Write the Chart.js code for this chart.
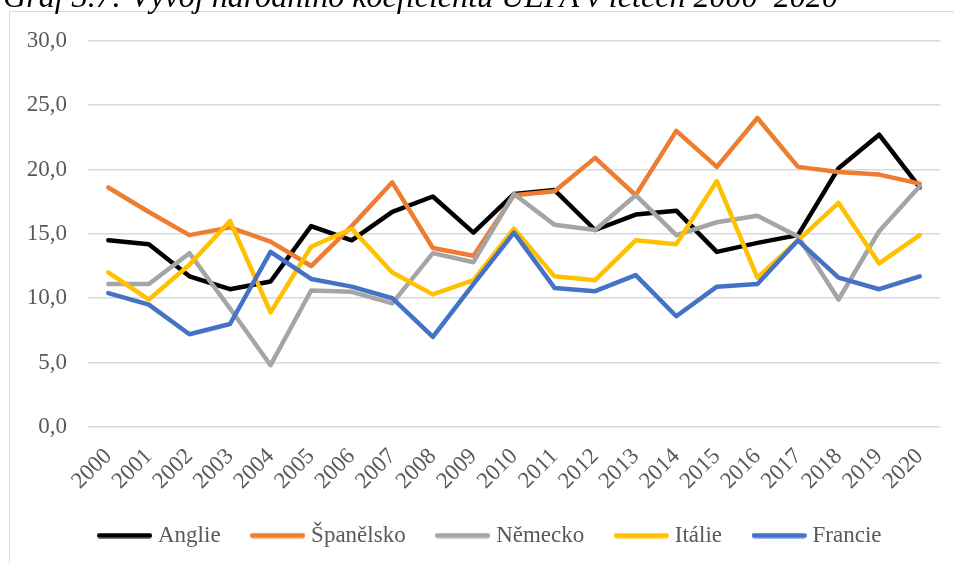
<!DOCTYPE html>
<html>
<head>
<meta charset="utf-8">
<script src="https://cdn.jsdelivr.net/npm/chart.js@4/dist/chart.umd.min.js"></script>
<style>
  html, body { margin: 0; padding: 0; background: #fff; overflow: hidden; }
  #wrap { position: relative; width: 954px; height: 563px; overflow: hidden; }
  #frame { position: absolute; left: 9px; top: 11px; width: 1000px; height: 600px; border: 1.5px solid #d9d9d9; box-sizing: border-box; }
  #title { position: absolute; left: 3px; top: -16px; white-space: nowrap; font-family: "Liberation Serif", "Times New Roman", serif; font-style: italic; font-size: 27px; color: #000; line-height: 1; }
  #cv { position: absolute; left: 0; top: 0; }
</style>
</head>
<body>
<div id="wrap">
  <div id="frame"></div>
  <canvas id="cv" width="984" height="563" style="width:984px;height:563px"></canvas>
  <div id="title">Graf 3.7: Vývoj národního koeficientu UEFA v letech 2000–2020</div>
</div>
<script>
const years = ["2000","2001","2002","2003","2004","2005","2006","2007","2008","2009","2010","2011","2012","2013","2014","2015","2016","2017","2018","2019","2020"];
const seriesNames = ["Anglie","Španělsko","Německo","Itálie","Francie"];
const anglie    = [14.5,14.2,11.7,10.7,11.3,15.6,14.5,16.7,17.9,15.1,18.1,18.4,15.3,16.5,16.8,13.6,14.3,14.9,20.1,22.7,18.6];
const spanelsko = [18.6,16.7,14.9,15.5,14.4,12.5,15.6,19.0,13.9,13.3,18.0,18.3,20.9,18.0,23.0,20.2,24.0,20.2,19.8,19.6,18.9];
const nemecko   = [11.1,11.1,13.5,9.2,4.8,10.6,10.5,9.6,13.5,12.8,18.1,15.7,15.3,18.0,14.9,15.9,16.4,14.8,9.9,15.2,18.7];
const italie    = [12.0,9.9,12.6,16.0,8.9,14.0,15.4,12.0,10.3,11.4,15.4,11.7,11.4,14.5,14.2,19.1,11.6,14.5,17.4,12.7,14.9];
const francie   = [10.4,9.5,7.2,8.0,13.6,11.5,10.9,10.0,7.0,11.1,15.1,10.8,10.55,11.8,8.6,10.9,11.1,14.5,11.6,10.7,11.7];
const yTicks = [0,5,10,15,20,25,30];
const colors = ["#000000","#ED7D31","#A5A5A5","#FFC000","#4472C4"];

const serifFam = "'Liberation Serif', serif";
const FS = 23;
Chart.defaults.font.family = serifFam;
Chart.defaults.font.size = FS;
Chart.defaults.color = '#595959';

function legendSample(color) {
  const c = document.createElement('canvas');
  c.width = 55; c.height = 6;
  const g = c.getContext('2d');
  g.strokeStyle = color; g.lineWidth = 5; g.lineCap = 'round';
  g.beginPath(); g.moveTo(2.5, 3); g.lineTo(52.5, 3); g.stroke();
  return c;
}

const values = [anglie, spanelsko, nemecko, italie, francie];
const datasets = seriesNames.map((n, i) => ({
  label: n,
  data: values[i],
  borderColor: colors[i],
  backgroundColor: colors[i],
  borderWidth: 4.5,
  pointRadius: 0,
  pointHoverRadius: 0,
  tension: 0,
  fill: false,
  borderJoinStyle: 'round',
  borderCapStyle: 'round',
  order: seriesNames.length - i
}));

// centre the legend under the full (wider, cropped) chart frame
const legendShift = {
  id: 'legendShift',
  afterLayout(chart) {
    if (chart.legend) { chart.legend.left += 17.5; chart.legend.right += 17.5; }
  }
};

new Chart(document.getElementById('cv'), {
  type: 'line',
  data: { labels: years, datasets },
  plugins: [legendShift],
  options: {
    responsive: false,
    animation: false,
    events: [],
    layout: { padding: { left: 9, right: 44, top: 40.7, bottom: 6 } },
    plugins: {
      legend: {
        position: 'bottom',
        labels: {
          sort: (a, b) => a.datasetIndex - b.datasetIndex,
          usePointStyle: true,
          pointStyleWidth: 44,
          boxHeight: 5,
          padding: 35,
          color: '#595959',
          font: { family: serifFam, size: FS },
          generateLabels: (ch) => ch.data.datasets.map((d, i) => ({
            text: d.label, fillStyle: d.borderColor, strokeStyle: d.borderColor,
            pointStyle: legendSample(d.borderColor),
            lineWidth: 0, hidden: false, datasetIndex: i, fontColor: '#595959'
          }))
        }
      },
      tooltip: { enabled: false },
      title: { display: false }
    },
    scales: {
      x: {
        offset: true,
        afterFit: (s) => { s.height = 62; },
        grid: { display: false, drawTicks: false },
        border: { display: false },
        ticks: { minRotation: 45, maxRotation: 45, autoSkip: false, padding: 16, color: '#595959', font: { family: serifFam, size: FS } }
      },
      y: {
        min: 0, max: 30,
        afterFit: (s) => { s.width = 79; },
        afterBuildTicks: (s) => { s.ticks = yTicks.map(v => ({ value: v })); },
        grid: { color: '#d9d9d9', lineWidth: 1.5, drawTicks: false },
        border: { display: false },
        ticks: { padding: 21, color: '#595959', font: { family: serifFam, size: FS },
                 callback: (v) => v.toFixed(1).replace('.', ',') }
      }
    }
  }
});

// title: fit to measured width (canvas measurement), baseline at y≈7
const mctx = document.createElement('canvas').getContext('2d');
mctx.font = "italic 100px 'Liberation Serif', serif";
const w100 = mctx.measureText(document.getElementById('title').textContent).width;
if (w100 > 0) {
  const tfs = 100 * 836 / w100;
  const t = document.getElementById('title');
  t.style.fontSize = tfs + 'px';
  t.style.top = (7 - 0.8375 * tfs) + 'px';
}
</script>
</body>
</html>
